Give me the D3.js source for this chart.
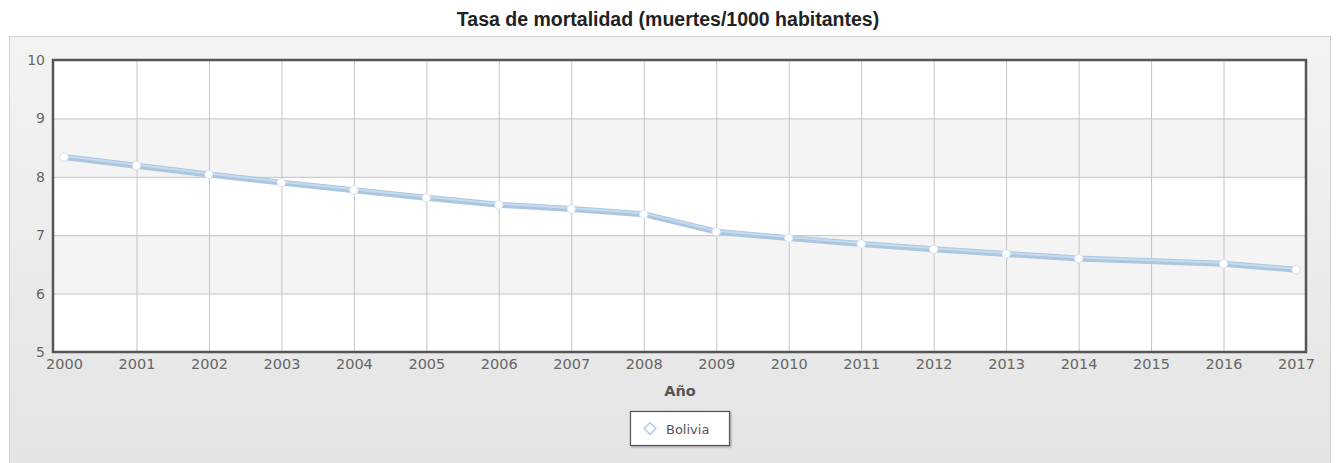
<!DOCTYPE html>
<html><head><meta charset="utf-8">
<script src="https://cdn.jsdelivr.net/npm/d3@7"></script>
<style>body{margin:0;background:#fff}svg{display:block}</style>
</head><body>
<svg id="c" width="1336" height="463"></svg>
<script>
const years = [2000,2001,2002,2003,2004,2005,2006,2007,2008,2009,2010,2011,2012,2013,2014,2015,2016,2017];
const bolivia = [8.34,8.19,8.04,7.90,7.77,7.64,7.52,7.45,7.36,7.06,6.95,6.85,6.76,6.68,6.60,null,6.51,6.41];
const yTicks = [5,6,7,8,9,10];
const title = "Tasa de mortalidad (muertes/1000 habitantes)";
const xTitle = "Año";
const seriesName = "Bolivia";

const svg = d3.select("#c");
const defs = svg.append("defs");
const g1 = defs.append("linearGradient").attr("id","bg").attr("x1",0).attr("y1",0).attr("x2",0).attr("y2",1);
g1.append("stop").attr("offset","0%").attr("stop-color","#f3f3f3");
g1.append("stop").attr("offset","100%").attr("stop-color","#e4e4e4");
const sh = defs.append("filter").attr("id","sh").attr("x","-20%").attr("y","-20%").attr("width","150%").attr("height","160%");
sh.append("feDropShadow").attr("dx",1).attr("dy",1).attr("stdDeviation",1.2).attr("flood-color","#000").attr("flood-opacity",0.35);

// panel
svg.append("rect").attr("x",9.5).attr("y",36.5).attr("width",1321).attr("height",430)
  .attr("fill","url(#bg)").attr("stroke","#d2d2d2");

svg.append("text").attr("x",668).attr("y",26).attr("text-anchor","middle")
  .attr("font-family","Liberation Sans, Arial, sans-serif").attr("font-weight","bold")
  .attr("font-size",19.5).attr("fill","#222").text(title);

const L=53, R=1306, T=60, B=352;
const x = d3.scaleLinear().domain([years[0], years[years.length-1]]).range([64,1296]);
const y = d3.scaleLinear().domain([5,10]).range([B,T]);

// bands
const bandG = svg.append("g");
d3.range(yTicks.length-1).forEach(i=>{
  bandG.append("rect").attr("x",L).attr("width",R-L)
    .attr("y",y(yTicks[i+1])).attr("height",y(yTicks[i])-y(yTicks[i+1]))
    .attr("fill", i%2===1 ? "#f4f4f4" : "#ffffff");
});

// grid
const gy = d3.axisLeft(y).tickValues(yTicks).tickSize(-(R-L)).tickFormat("");
svg.append("g").attr("transform",`translate(${L},0)`).call(gy)
  .call(g=>g.select(".domain").remove())
  .call(g=>g.selectAll("line").attr("stroke","#c4c4c4"));
const gx = d3.axisBottom(x).tickValues(years.slice(1,-1)).tickSize(-(B-T)).tickFormat("");
svg.append("g").attr("transform",`translate(0,${B})`).call(gx)
  .call(g=>g.select(".domain").remove())
  .call(g=>g.selectAll("line").attr("stroke","#c4c4c4"));

// border
svg.append("rect").attr("x",L).attr("y",T).attr("width",R-L).attr("height",B-T)
  .attr("fill","none").attr("stroke","#555").attr("stroke-width",2.5);

const tickFont = "DejaVu Sans, Verdana, sans-serif";
// axis labels
const ya = d3.axisLeft(y).tickValues(yTicks).tickSize(0).tickPadding(8).tickFormat(d3.format("d"));
svg.append("g").attr("transform",`translate(${L},0)`).call(ya)
  .call(g=>g.select(".domain").remove())
  .call(g=>g.selectAll("text").attr("font-family",tickFont).attr("font-size",14).attr("fill","#666"));
const xa = d3.axisBottom(x).tickValues(years).tickSize(0).tickPadding(7).tickFormat(d3.format("d"));
svg.append("g").attr("transform",`translate(0,${B})`).call(xa)
  .call(g=>g.select(".domain").remove())
  .call(g=>g.selectAll("text").attr("font-family",tickFont).attr("font-size",14.5).attr("fill","#666"));

svg.append("text").attr("x",680).attr("y",396).attr("text-anchor","middle")
  .attr("font-family",tickFont).attr("font-weight","bold")
  .attr("font-size",14.5).attr("fill","#555").text(xTitle);

// line
const pts = years.map((yr,i)=>({yr, v:bolivia[i]})).filter(d=>d.v!=null);
const line = d3.line().x(d=>x(d.yr)).y(d=>y(d.v));
svg.append("path").datum(pts).attr("d",line).attr("fill","none")
  .attr("stroke","#acc6e0").attr("stroke-width",6).attr("stroke-linejoin","round");
svg.append("path").datum(pts).attr("d",line).attr("fill","none")
  .attr("stroke","#c6dbef").attr("stroke-width",2).attr("transform","translate(0,-1)");
svg.append("g").selectAll("circle").data(pts.filter(d=>d.yr!==2015)).join("circle")
  .attr("cx",d=>x(d.yr)).attr("cy",d=>y(d.v)).attr("r",4.2)
  .attr("fill","#fff").attr("stroke","#d3e3f2").attr("stroke-width",1);

// legend
svg.append("rect").attr("x",630.5).attr("y",411.5).attr("width",99).attr("height",34)
  .attr("fill","#fff").attr("stroke","#555").attr("stroke-width",1.2).attr("filter","url(#sh)");
svg.append("path").attr("d",d3.symbol(d3.symbolDiamond,60)()).attr("transform","translate(650,428.5) scale(1.4,0.8)")
  .attr("fill","#fff").attr("stroke","#b5d0ea").attr("stroke-width",1.5);
svg.append("text").attr("x",666).attr("y",433.5).attr("font-family",tickFont)
  .attr("font-size",13).attr("fill","#555").text(seriesName);
</script>
</body></html>
